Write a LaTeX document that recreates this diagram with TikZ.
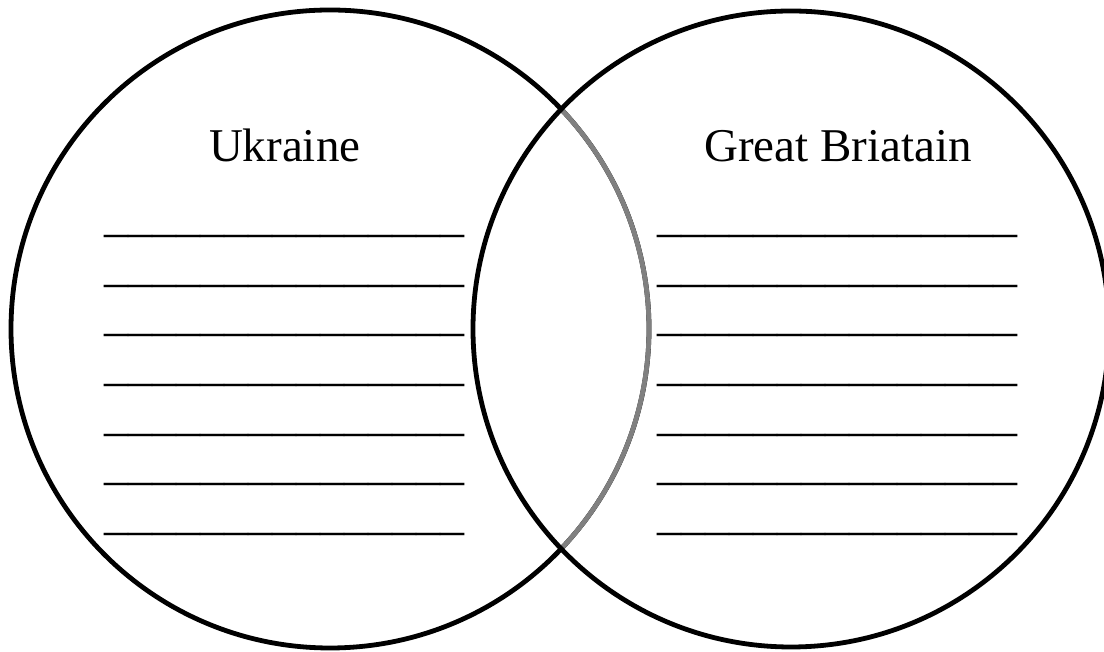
\documentclass[tikz,border=0pt]{standalone}
\usepackage{fontspec}
\setmainfont{Liberation Serif}
\definecolor{arcgray}{HTML}{808080}
\tikzset{
  ring/.style={draw=black, line width=4.8pt},
  innerarc/.style={draw=arcgray, line width=4.8pt},
  title/.style={inner sep=0pt, anchor=base, font=\fontsize{47}{56}\selectfont},
  blank/.style={inner sep=0pt, anchor=base, font=\fontsize{48}{56}\selectfont}
}
\begin{document}
\begin{tikzpicture}[x=1pt,y=1pt]
\useasboundingbox (0,0) rectangle (1104,652);
\clip (0,0) rectangle (1104,652);
\fill[white] (0,0) rectangle (1104,652);
% circle centres
\coordinate (cl) at (330,323);
\coordinate (cr) at (791,323);
\draw[ring] (cl) circle[radius=319];
\draw[innerarc] (cl) ++(43.56:319) arc[start angle=43.56, end angle=-43.56, radius=319];
\draw[ring] (cr) circle[radius=318];
% titles
\node[title] (uk) at (284.7,490) {Ukraine};
\node[title] (gb) at (838,490) {Great Briatain};
% blank lines
\foreach \i in {0,...,6}{
  \pgfmathsetmacro{\yy}{652-(234+49.7*\i-2.5)}
  \node[blank] (L\i) at (284.7,\yy) {\_\_\_\_\_\_\_\_\_\_\_\_\_\_\_};
  \node[blank] (R\i) at (837.7,\yy) {\_\_\_\_\_\_\_\_\_\_\_\_\_\_\_};
}
\end{tikzpicture}
\end{document}
